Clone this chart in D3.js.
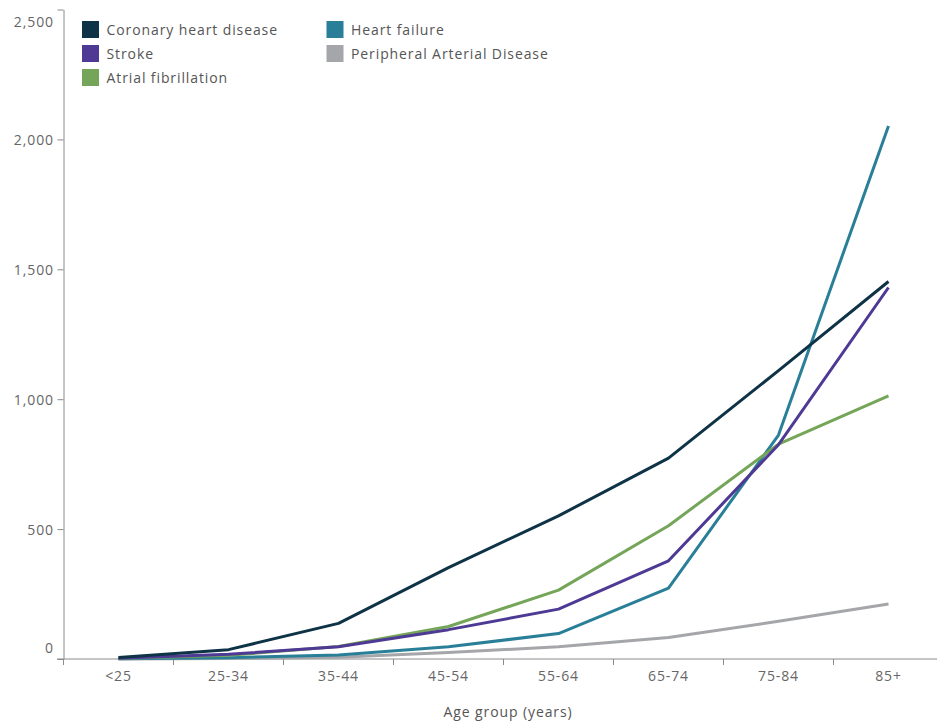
<!DOCTYPE html>
<html>
<head>
<meta charset="utf-8">
<script src="https://cdn.jsdelivr.net/npm/d3@7"></script>
<style>
  html, body { margin: 0; padding: 0; background: #fff; }
  svg { display: block; font-family: "Open Sans", "Noto Sans", sans-serif; }
</style>
</head>
<body>
<svg id="chart" width="937" height="724"></svg>
<script>
const categories = ["<25", "25-34", "35-44", "45-54", "55-64", "65-74", "75-84", "85+"];
const seriesNames = ["Coronary heart disease", "Stroke", "Atrial fibrillation", "Heart failure", "Peripheral Arterial Disease"];
const coronaryHeartDisease = [6, 36, 137, 352, 551, 773, 1110, 1453];
const stroke = [3, 18, 47, 113, 192, 378, 825, 1430];
const atrialFibrillation = [2, 14, 48, 125, 265, 513, 827, 1013];
const heartFailure = [1, 5, 15, 47, 98, 273, 862, 2052];
const peripheralArterialDisease = [0, 2, 7, 25, 47, 83, 145, 212];
const yTicks = [0, 500, 1000, 1500, 2000, 2500];
const colors = ["#0e3347", "#4e3a94", "#74a558", "#2a7f98", "#a5a6a9"];
const xTitle = "Age group (years)";

const seriesValues = [coronaryHeartDisease, stroke, atrialFibrillation, heartFailure, peripheralArterialDisease];
const series = seriesNames.map((name, i) => ({ name, values: seriesValues[i], color: colors[i] }));

const svg = d3.select("#chart");
const axisX0 = 63.5, axisX1 = 943.5, axisTop = 9.5, axisBottom = 659;

const x = d3.scaleBand().domain(categories).range([axisX0, axisX1]).padding(0);
const y = d3.scaleLinear().domain([0, 2500]).range([axisBottom, axisTop]);

const axisColor = "#8a8a8a";
const tickTextColor = "#666";
const ls = "0.9px";

// Y axis
const yAxis = svg.append("g").attr("transform", `translate(${axisX0},0)`)
  .call(d3.axisLeft(y).tickValues(yTicks).tickFormat(d3.format(",")).tickSize(6).tickSizeOuter(0));
yAxis.select(".domain").attr("stroke", axisColor);
yAxis.selectAll(".tick line").attr("stroke", axisColor);
yAxis.selectAll(".tick text")
  .attr("fill", tickTextColor).attr("font-size", 14).attr("x", -9.5)
  .attr("letter-spacing", ls)
  .attr("dy", d => d === 0 ? "-0.45em" : d === 2500 ? "1.2em" : "0.35em")
  .attr("font-family", "'Open Sans', sans-serif");

// X axis
const xAxisG = svg.append("g").attr("transform", `translate(0,${axisBottom})`);
xAxisG.append("line").attr("x1", 57).attr("x2", 937).attr("y1", 0).attr("y2", 0).attr("stroke", axisColor);
xAxisG.selectAll(".bound").data(categories).enter().append("line")
  .attr("x1", d => x(d)).attr("x2", d => x(d)).attr("y1", 0).attr("y2", 6).attr("stroke", axisColor);
xAxisG.selectAll(".lbl").data(categories).enter().append("text")
  .attr("x", d => x(d) + x.bandwidth() / 2).attr("y", 22)
  .attr("text-anchor", "middle").attr("font-size", 14).attr("letter-spacing", ls).attr("fill", tickTextColor)
  .text(d => d);

svg.append("text").attr("x", 508).attr("y", 717)
  .attr("text-anchor", "middle").attr("font-size", 14).attr("letter-spacing", ls).attr("fill", "#555")
  .text(xTitle);

// Lines
const line = d3.line()
  .x((d, i) => x(categories[i]) + x.bandwidth() / 2)
  .y(d => y(d));

const drawOrder = [4, 3, 2, 1, 0];
svg.append("g").selectAll("path").data(drawOrder.map(i => series[i])).enter().append("path")
  .attr("d", d => line(d.values))
  .attr("fill", "none").attr("stroke", d => d.color)
  .attr("stroke-width", 3).attr("stroke-linejoin", "round").attr("stroke-linecap", "butt");

// Legend
const legendPos = [[82, 21], [82, 45], [82, 69], [326.5, 21], [326.5, 45]];
const legend = svg.append("g");
series.forEach((s, i) => {
  const g = legend.append("g").attr("transform", `translate(${legendPos[i][0]},${legendPos[i][1]})`);
  g.append("rect").attr("width", 17).attr("height", 17).attr("fill", s.color);
  g.append("text").attr("x", 24.5).attr("y", 14.3).attr("font-size", 14).attr("letter-spacing", ls)
    .attr("fill", "#555").text(s.name);
});
</script>
</body>
</html>
